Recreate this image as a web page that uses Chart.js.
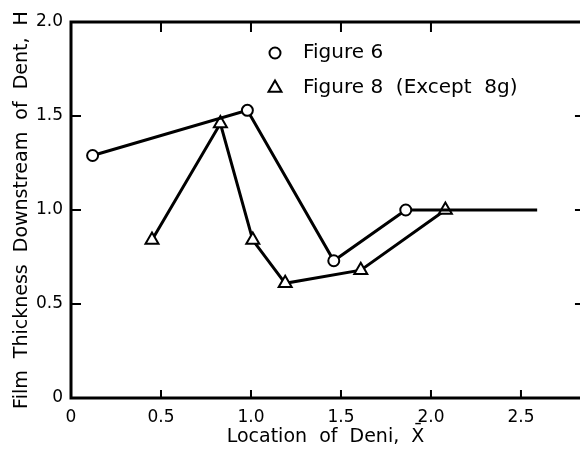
<!DOCTYPE html>
<html>
<head>
<meta charset="utf-8">
<script src="https://cdn.jsdelivr.net/npm/chart.js@4.4.1/dist/chart.umd.min.js"></script>
<style>
  html, body { margin: 0; padding: 0; background: #fff; overflow: hidden; width: 580px; height: 454px; }
  canvas { display: block; }
</style>
</head>
<body>
<canvas id="c" width="580" height="454"></canvas>
<script>
// ---- data ----
const fig6X = [0.12, 0.98, 1.46, 1.86, 2.59];
const fig6Y = [1.29, 1.53, 0.73, 1.00, 1.00];
const fig6Marker = [true, true, true, true, false];
const fig8X = [0.45, 0.83, 1.01, 1.19, 1.61, 2.08];
const fig8Y = [0.84, 1.46, 0.84, 0.61, 0.68, 1.00];
const xTicks = [0, 0.5, 1.0, 1.5, 2.0, 2.5];
const yTicks = [0, 0.5, 1.0, 1.5, 2.0];
const topTicks = [0.5, 1.0, 1.5, 2.0];
const rightTicks = [0.5, 1.0, 1.5];
const xAxisEnd = 2.85;   // right frame line (just outside the visible picture)
const labels = ['Figure 6', 'Figure 8  (Except  8g)'];
const xTitle = 'Location  of  Deni,  X\u0304';
const yTitle = 'Film  Thickness  Downstream  of  Dent,  H';

const FONT = '"DejaVu Sans", "Liberation Sans", sans-serif';
const toPts = (xs, ys) => xs.map((x, i) => ({x: x, y: ys[i]}));
const fmt = v => (v === 0 ? '0' : v.toFixed(1));

const frame = {
  id: 'frame',
  afterDatasetsDraw(chart) {
    const {ctx, chartArea: a, scales} = chart;
    const xr = scales.x.getPixelForValue(xAxisEnd);
    ctx.save();
    ctx.strokeStyle = '#000';
    ctx.lineWidth = 3;
    ctx.strokeRect(a.left, a.top, xr - a.left, a.bottom - a.top);
    ctx.lineWidth = 2;
    ctx.beginPath();
    xTicks.forEach(v => { if (v > 0) { const p = scales.x.getPixelForValue(v); ctx.moveTo(p, a.bottom); ctx.lineTo(p, a.bottom - 8); } });
    topTicks.forEach(v => { const p = scales.x.getPixelForValue(v); ctx.moveTo(p, a.top); ctx.lineTo(p, a.top + 10); });
    yTicks.forEach(v => { if (v > 0 && v < 2) { const p = scales.y.getPixelForValue(v); ctx.moveTo(a.left, p); ctx.lineTo(a.left + 10, p); } });
    rightTicks.forEach(v => { const p = scales.y.getPixelForValue(v); ctx.moveTo(xr, p); ctx.lineTo(xr - 9, p); });
    ctx.stroke();
    // legend
    const ds = chart.data.datasets;
    const rows = [53, 88];
    ds.forEach((d, i) => {
      ctx.fillStyle = '#fff'; ctx.strokeStyle = '#000'; ctx.lineWidth = 2;
      ctx.beginPath();
      const r = d.legendRadius;
      if (d.pointStyle === 'circle') { ctx.arc(275, rows[i], r, 0, Math.PI * 2); }
      else {
        ctx.moveTo(275, rows[i] - r);
        ctx.lineTo(275 + r * 0.866, rows[i] + r * 0.5);
        ctx.lineTo(275 - r * 0.866, rows[i] + r * 0.5);
        ctx.closePath();
      }
      ctx.fill(); ctx.stroke();
      ctx.fillStyle = '#000';
      ctx.font = '20px ' + FONT;
      ctx.textBaseline = 'middle';
      ctx.textAlign = 'left';
      ctx.fillText(d.label, 303, rows[i]);
    });
    ctx.restore();
  }
};

new Chart(document.getElementById('c'), {
  type: 'line',
  data: {
    datasets: [
      {
        label: labels[0],
        data: toPts(fig6X, fig6Y),
        borderColor: '#000', borderWidth: 3,
        pointStyle: 'circle', legendRadius: 5.5,
        pointRadius: fig6Marker.map(m => (m ? 5.5 : 0)),
        pointBackgroundColor: '#fff', pointBorderColor: '#000', pointBorderWidth: 2,
        tension: 0, fill: false, clip: false
      },
      {
        label: labels[1],
        data: toPts(fig8X, fig8Y),
        borderColor: '#000', borderWidth: 3,
        pointStyle: 'triangle', legendRadius: 7.5,
        pointRadius: 7.5,
        pointBackgroundColor: '#fff', pointBorderColor: '#000', pointBorderWidth: 2,
        tension: 0, fill: false, clip: false
      }
    ]
  },
  options: {
    responsive: false,
    animation: false,
    devicePixelRatio: 1,
    layout: { autoPadding: false, padding: { left: 0, right: 0, top: 22, bottom: 0 } },
    plugins: { legend: { display: false }, tooltip: { enabled: false } },
    scales: {
      x: {
        type: 'linear', position: 'bottom', min: 0, max: 2.828,
        afterBuildTicks: s => { s.ticks = xTicks.map(v => ({value: v})); },
        afterFit: s => { s.height = 56; s.paddingRight = 0; s.paddingLeft = 0; },
        grid: { display: false, drawTicks: false },
        border: { display: false },
        ticks: { color: '#000', font: { family: FONT, size: 17 }, padding: 9, maxRotation: 0, callback: v => fmt(v) },
        title: { display: true, text: xTitle, color: '#000', font: { family: FONT, size: 19 }, padding: { top: 0, bottom: 6 } }
      },
      y: {
        type: 'linear', position: 'left', min: 0, max: 2,
        afterBuildTicks: s => { s.ticks = yTicks.map(v => ({value: v})); },
        afterFit: s => { s.width = 71; s.paddingTop = 0; s.paddingBottom = 0; },
        grid: { display: false, drawTicks: false },
        border: { display: false },
        ticks: { color: '#000', font: { family: FONT, size: 17 }, padding: 8, callback: v => fmt(v) },
        title: { display: true, text: yTitle, color: '#000', font: { family: FONT, size: 19 }, padding: { top: 11, bottom: 0 } }
      }
    }
  },
  plugins: [frame]
});
</script>
</body>
</html>
